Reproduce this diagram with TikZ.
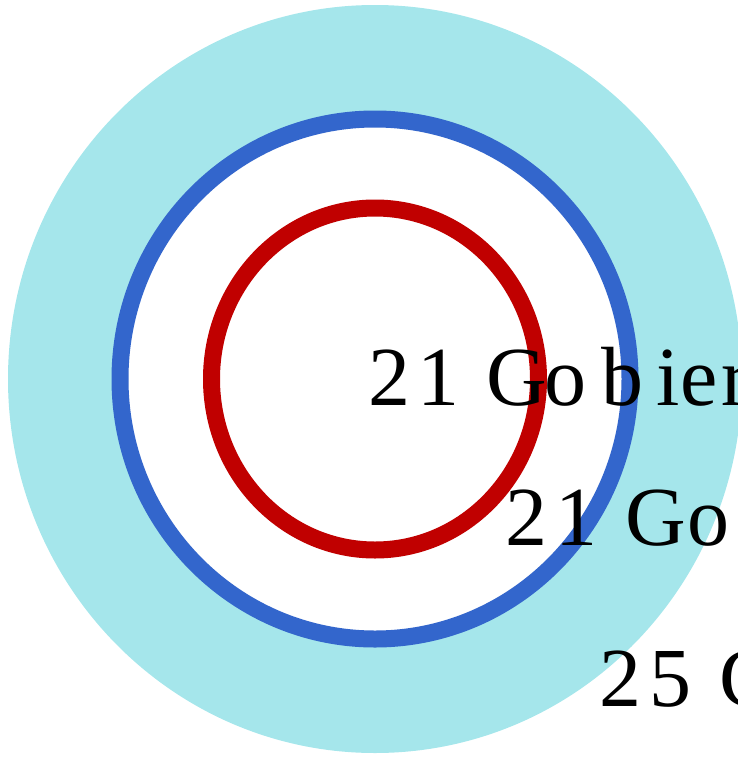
\documentclass[tikz,border=0pt]{standalone}
\usepackage{fontspec}
\setmainfont{Liberation Serif}
\definecolor{ringcyan}{RGB}{165,230,235}
\definecolor{ringblue}{RGB}{51,102,204}
\definecolor{ringred}{RGB}{192,0,0}
\newcommand{\gl}[2]{\makebox[#1pt][l]{#2}}
\begin{document}
\begin{tikzpicture}[x=1pt,y=-1pt,
  lbl/.style={anchor=base west, inner sep=0pt, outer sep=0pt, text=black,
              font=\fontsize{84}{100}\selectfont},
  ring/.style={line width=17pt}]
\useasboundingbox (0,0) rectangle (738,758);
\clip (0,0) rectangle (738,758);
\coordinate (c) at (375,379);
\fill[ringcyan] (c) ellipse [x radius=367pt, y radius=374pt];
\fill[white] (c) ellipse [x radius=255pt, y radius=260pt];
\draw[ring, ringblue] (c) ellipse [x radius=255pt, y radius=260pt];
\draw[ring, ringred] (c) ellipse [x radius=163.5pt, y radius=171pt];
\node[lbl] (t1) at (368,405) {\gl{50}{2}\gl{48}{1} \gl{57}{G}\gl{58}{o}\gl{55}{b}\gl{23}{i}\gl{42}{e}r};
\node[lbl] (t2) at (505.5,545) {\gl{50.5}{2}\gl{48.5}{1} \gl{62}{G}o};
\node[lbl] (t3) at (599.5,706) {\gl{50.5}{2}\gl{48.5}{5} G};
\end{tikzpicture}
\end{document}
